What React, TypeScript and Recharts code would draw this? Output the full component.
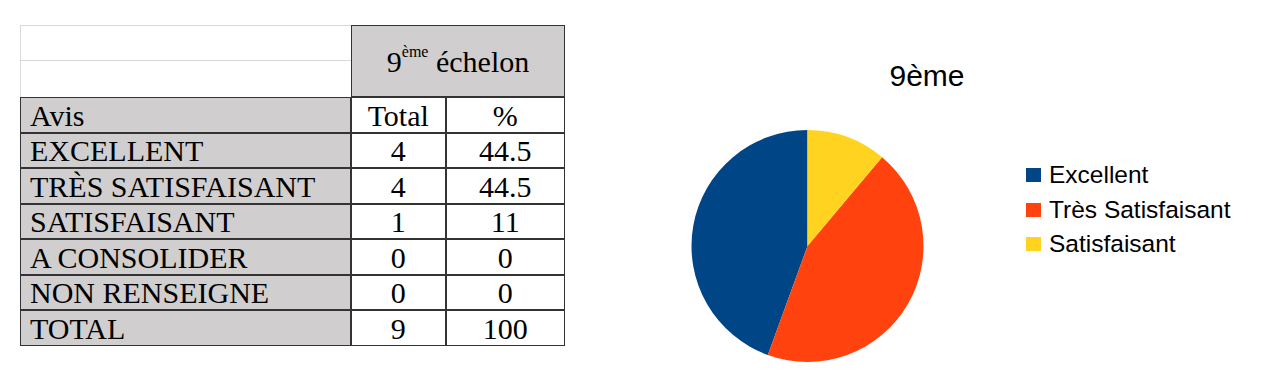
import React from 'react';
import { PieChart, Pie, Cell } from 'recharts';

const headerLabel = 'Avis';
const colTotalLabel = 'Total';
const colPctLabel = '%';
const categories = ['EXCELLENT', 'TRÈS SATISFAISANT', 'SATISFAISANT', 'A CONSOLIDER', 'NON RENSEIGNE', 'TOTAL'];
const totals = ['4', '4', '1', '0', '0', '9'];
const percents = ['44.5', '44.5', '11', '0', '0', '100'];

const chartTitle = '9ème';
const pieLabels = ['Excellent', 'Très Satisfaisant', 'Satisfaisant'];
const pieValues = [4, 4, 1];
const pieColors = ['#004586', '#ff420e', '#ffd320'];

const pieData = pieLabels.map((name, i) => ({ name, value: pieValues[i] }));

const GRAY = '#d0cece';
const DARK = '#333333';
const LIGHT = '#d9d9d9';
const serif = '"Liberation Serif", "DejaVu Serif", serif';
const sans = '"Liberation Sans", Arial, sans-serif';

const colX = [20.75, 351.75, 446.25, 565.75];
const rowY = [97.75, 133.25, 168.75, 204.25, 239.75, 275.25, 310.75, 346.75];

function Cellbox(props: { x0: number; x1: number; y0: number; y1: number; bg: string; align: 'left' | 'center'; children?: React.ReactNode }) {
  const { x0, x1, y0, y1, bg, align, children } = props;
  return (
    <div
      style={{
        position: 'absolute',
        left: x0,
        top: y0,
        width: x1 - x0,
        height: y1 - y0,
        background: bg,
        boxSizing: 'border-box',
        border: `1.5px solid ${DARK}`,
        marginLeft: -0.75,
        marginTop: -0.75,
        display: 'flex',
        alignItems: 'center',
        justifyContent: align === 'left' ? 'flex-start' : 'center',
        paddingLeft: align === 'left' ? 9 : 0,
        paddingTop: 2,
        fontFamily: serif,
        fontSize: 30,
        color: '#000',
        whiteSpace: 'nowrap',
      }}
    >
      {children}
    </div>
  );
}

export default function App() {
  const rows = [headerLabel, ...categories];
  return (
    <div style={{ position: 'relative', width: 1268, height: 383, background: '#fff', overflow: 'hidden' }}>
      <style>{'body{margin:0;background:#fff}'}</style>

      {/* top-left empty cells with light borders */}
      <div style={{ position: 'absolute', left: 20, top: 25, width: 331, height: 35.5, boxSizing: 'border-box', borderTop: `1.5px solid ${LIGHT}`, borderLeft: `1.5px solid ${LIGHT}`, borderBottom: `1.5px solid ${LIGHT}` }} />
      <div style={{ position: 'absolute', left: 20, top: 60.5, width: 331, height: 36.5, boxSizing: 'border-box', borderLeft: `1.5px solid ${LIGHT}` }} />

      {/* header cell */}
      <Cellbox x0={colX[1]} x1={colX[3]} y0={25.75} y1={rowY[0]} bg={GRAY} align="center">
        <span>
          9<sup style={{ fontSize: 16, verticalAlign: 'top', position: 'relative', top: -2 }}>ème</sup> échelon
        </span>
      </Cellbox>

      {rows.map((label, r) => (
        <React.Fragment key={r}>
          <Cellbox x0={colX[0]} x1={colX[1]} y0={rowY[r]} y1={rowY[r + 1]} bg={GRAY} align="left">
            {label}
          </Cellbox>
          <Cellbox x0={colX[1]} x1={colX[2]} y0={rowY[r]} y1={rowY[r + 1]} bg="#fff" align="center">
            {r === 0 ? colTotalLabel : totals[r - 1]}
          </Cellbox>
          <Cellbox x0={colX[2]} x1={colX[3]} y0={rowY[r]} y1={rowY[r + 1]} bg="#fff" align="center">
            {r === 0 ? colPctLabel : percents[r - 1]}
          </Cellbox>
        </React.Fragment>
      ))}

      {/* chart title */}
      <div style={{ position: 'absolute', left: 827, top: 56, width: 200, textAlign: 'center', fontFamily: sans, fontSize: 30, color: '#000', lineHeight: '40px' }}>
        {chartTitle}
      </div>

      <div style={{ position: 'absolute', left: 680, top: 0 }}>
        <PieChart width={260} height={383} margin={{ top: 0, right: 0, bottom: 0, left: 0 }}>
          <Pie
            data={pieData}
            dataKey="value"
            nameKey="name"
            cx={127.5}
            cy={246}
            outerRadius={116}
            startAngle={90}
            endAngle={450}
            stroke="none"
            isAnimationActive={false}
          >
            {pieData.map((_, i) => (
              <Cell key={i} fill={pieColors[i]} />
            ))}
          </Pie>
        </PieChart>
      </div>

      {/* legend */}
      <div style={{ position: 'absolute', left: 1026, top: 158, fontFamily: sans, fontSize: 24.5, color: '#000' }}>
        {pieLabels.map((label, i) => (
          <div key={i} style={{ display: 'flex', alignItems: 'center', height: 34.5 }}>
            <div style={{ width: 15, height: 14, background: pieColors[i], marginRight: 8 }} />
            <span style={{ lineHeight: '34.5px', whiteSpace: 'nowrap' }}>{label}</span>
          </div>
        ))}
      </div>
    </div>
  );
}
